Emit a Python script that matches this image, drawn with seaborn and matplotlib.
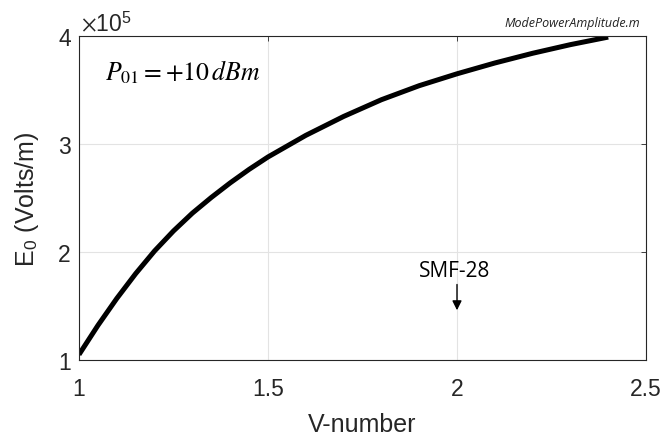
import numpy as np
import pandas as pd
import matplotlib
matplotlib.use("Agg")
import matplotlib.pyplot as plt
import seaborn as sns

# Data (E0 in units of 1e5 V/m)
v_number = [1.0, 1.05, 1.1, 1.15, 1.2, 1.25, 1.3, 1.35, 1.4, 1.45, 1.5,
            1.6, 1.7, 1.8, 1.9, 2.0, 2.1, 2.2, 2.3, 2.4]
e0_1e5 = [1.05, 1.32, 1.57, 1.80, 2.01, 2.195, 2.36, 2.505, 2.64, 2.765, 2.88,
          3.08, 3.255, 3.41, 3.54, 3.65, 3.75, 3.84, 3.92, 3.99]
x_ticks = [1, 1.5, 2, 2.5]
x_tick_labels = ["1", "1.5", "2", "2.5"]
y_ticks = [1, 2, 3, 4]
y_tick_labels = ["1", "2", "3", "4"]

sns.set_theme(style="white")
plt.rcParams["font.family"] = ["Liberation Sans", "DejaVu Sans"]
plt.rcParams["mathtext.fontset"] = "stix"

df = pd.DataFrame({"V": v_number, "E0": e0_1e5})

fig = plt.figure(figsize=(6.61, 4.39), dpi=100)
ax = fig.add_axes([79 / 661, 1 - 361 / 439, (646 - 79) / 661, (361 - 37) / 439])

sns.lineplot(data=df, x="V", y="E0", ax=ax, color="black", linewidth=3.6,
             sort=False, solid_joinstyle="round", solid_capstyle="butt")

ax.set_xlim(1, 2.5)
ax.set_ylim(1, 4)
ax.set_xticks(x_ticks)
ax.set_xticklabels(x_tick_labels)
ax.set_yticks(y_ticks)
ax.set_yticklabels(y_tick_labels)
ax.grid(True, color="#e3e3e3", linewidth=0.8)
ax.set_axisbelow(True)
for s in ax.spines.values():
    s.set_color("#262626")
    s.set_linewidth(0.8)
ax.tick_params(direction="in", length=3.6, width=0.6, colors="#262626",
               labelsize=16.5, top=True, right=True)
ax.tick_params(axis="y", pad=6)
ax.tick_params(axis="x", pad=12)

ax.set_xlabel("V-number", fontsize=18, color="#262626", labelpad=9)
ax.set_ylabel(r"E$_\mathregular{0}$ (Volts/m)", fontsize=18, color="#262626", labelpad=12)

# multiplier
ax.text(2 / 567, 1.0 + (361 - 31.7 - 324) / 324, r"$\times$10$^\mathregular{5}$",
        transform=ax.transAxes, fontsize=16.5, color="#262626",
        ha="left", va="baseline")
ax.text(1.069, 3.60, r"$P_{01} = +10\,dBm$", fontsize=18.5, color="black",
        ha="left", va="baseline")
ax.text((640 - 79) / 567, (361 - 26.7) / 324, "ModePowerAmplitude.m",
        transform=ax.transAxes, fontsize=9, style="italic",
        family=["Open Sans"], ha="right", va="baseline", color="#222222")
ax.text(1.995, 1.78, "SMF-28", fontsize=15, family=["Open Sans"],
        ha="center", va="baseline", color="black")
ax.annotate("", xy=(2.0, 1.435), xytext=(2.0, 1.725),
            arrowprops=dict(arrowstyle="-|>", color="black", lw=1,
                            mutation_scale=14))

fig.savefig("out.png", dpi=100)
